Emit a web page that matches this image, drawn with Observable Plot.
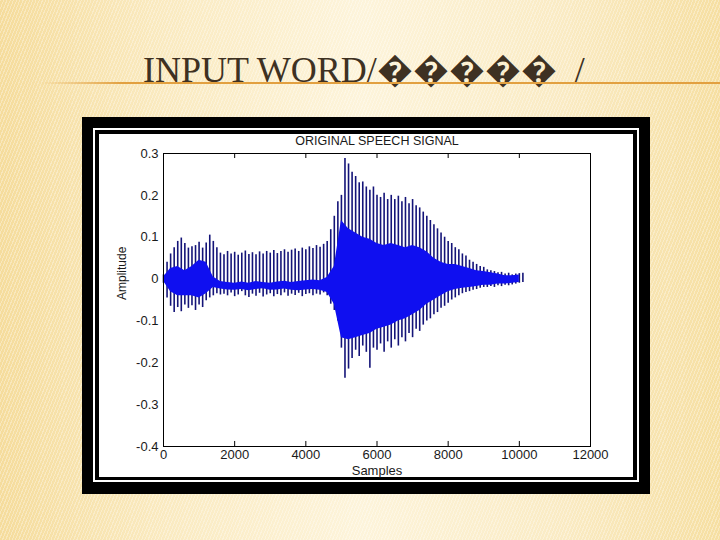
<!DOCTYPE html>
<html>
<head>
<meta charset="utf-8">
<script src="https://cdn.jsdelivr.net/npm/d3@7"></script>
<script src="https://cdn.jsdelivr.net/npm/@observablehq/plot@0.6"></script>
<style>
  html, body { margin: 0; padding: 0; }
  #slide {
    position: relative; width: 720px; height: 540px; overflow: hidden;
    background:
      repeating-linear-gradient(112deg, rgba(255,255,255,0.32) 0px, rgba(255,255,255,0.32) 1px, rgba(255,255,255,0) 1px, rgba(255,255,255,0) 3px),
      linear-gradient(90deg, #f5dc9c 0%, #faeac0 22%, #fdf4db 50%, #faebc4 78%, #f6dfa2 100%);
  }
  #title {
    position: absolute; left: 143px; top: 52px; line-height: 36px;
    font-family: "Liberation Serif", "Times New Roman", serif; font-size: 36px;
    color: #3e3122; white-space: pre;
  }
  #rule {
    position: absolute; left: 40px; top: 82px; width: 680px; height: 2px;
    background: linear-gradient(90deg, rgba(226,160,64,0) 0%, #e2a040 12%, #e2a040 100%);
  }
  .box { position: absolute; }
</style>
</head>
<body>
<div id="slide">
  <div id="title"></div>
  <div id="rule"></div>
  <div class="box" style="left:82px;top:117px;width:568px;height:377px;background:#000;"></div>
  <div class="box" style="left:93px;top:128px;width:546px;height:354px;background:#fff;"></div>
  <div class="box" style="left:95px;top:130px;width:542px;height:350px;background:#000;"></div>
  <div class="box" id="chart" style="left:99px;top:134px;width:534px;height:343px;background:#fff;"></div>
</div>
<script>
// ---- text ----
const slideTitle = "INPUT WORD/\uFFFD\uFFFD\uFFFD\uFFFD\uFFFD  /";
const chartTitle = "ORIGINAL SPEECH SIGNAL";
const xLabel = "Samples";
const yLabel = "Amplitude";

// ---- axes ----
const xTicks = [0, 2000, 4000, 6000, 8000, 10000, 12000];
const xTickLabels = ["0", "2000", "4000", "6000", "8000", "10000", "12000"];
const yTicks = [0.3, 0.2, 0.1, 0, -0.1, -0.2, -0.3, -0.4];
const yTickLabels = ["0.3", "0.2", "0.1", "0", "-0.1", "-0.2", "-0.3", "-0.4"];

// ---- waveform envelope ----
// pitch-spike extremes, one value per 100 samples (0 .. 10100)
const spikeStep = 100;
const spikeHi = [
  0.01, 0.04, 0.06, 0.075, 0.09, 0.098, 0.085, 0.074, 0.077, 0.08,
  0.088, 0.074, 0.086, 0.105, 0.09, 0.075, 0.062, 0.058, 0.066, 0.06,
  0.064, 0.057, 0.062, 0.067, 0.059, 0.063, 0.058, 0.065, 0.06, 0.066,
  0.062, 0.068, 0.061, 0.066, 0.07, 0.064, 0.069, 0.072, 0.066, 0.074,
  0.07, 0.077, 0.073, 0.08, 0.076, 0.083, 0.09, 0.118, 0.15, 0.185,
  0.2, 0.288, 0.275, 0.255, 0.245, 0.23, 0.232, 0.22, 0.212, 0.22,
  0.2, 0.195, 0.205, 0.19, 0.2, 0.19, 0.198, 0.185, 0.195, 0.18,
  0.19, 0.175, 0.17, 0.16, 0.15, 0.14, 0.13, 0.12, 0.11, 0.1,
  0.09, 0.085, 0.075, 0.07, 0.06, 0.055, 0.045, 0.04, 0.035, 0.03,
  0.028, 0.022, 0.02, 0.018, 0.015, 0.016, 0.012, 0.014, 0.01, 0.012,
  0.013, 0.014
];
const spikeLo = [
  -0.01, -0.045, -0.065, -0.08, -0.068, -0.078, -0.062, -0.07, -0.064, -0.075,
  -0.062, -0.068, -0.052, -0.045, -0.04, -0.035, -0.038, -0.036, -0.04, -0.033,
  -0.042, -0.038, -0.03, -0.04, -0.044, -0.036, -0.041, -0.034, -0.043, -0.038,
  -0.035, -0.042, -0.037, -0.04, -0.033, -0.041, -0.036, -0.039, -0.034, -0.042,
  -0.037, -0.035, -0.04, -0.036, -0.038, -0.033, -0.04, -0.06, -0.075, -0.1,
  -0.165, -0.237, -0.215, -0.19, -0.17, -0.185, -0.16, -0.175, -0.213, -0.165,
  -0.17, -0.155, -0.175, -0.15, -0.165, -0.145, -0.16, -0.14, -0.15, -0.13,
  -0.14, -0.12, -0.125, -0.11, -0.1, -0.095, -0.085, -0.08, -0.07, -0.065,
  -0.058, -0.05, -0.045, -0.04, -0.035, -0.032, -0.03, -0.027, -0.025, -0.022,
  -0.02, -0.02, -0.018, -0.02, -0.016, -0.018, -0.015, -0.016, -0.014, -0.012,
  -0.01, -0.008
];
// dense core of the signal, one value per 200 samples (0 .. 10000)
const coreStep = 200;
const coreHi = [
  0.005, 0.025, 0.03, 0.02, 0.03, 0.045, 0.04, 0.005, -0.006, -0.008,
  -0.01, -0.007, -0.01, -0.006, -0.008, -0.01, -0.007, -0.005, -0.008, -0.006,
  -0.004, -0.002, -0.004, 0.004, 0.03, 0.14, 0.12, 0.11, 0.1, 0.095,
  0.085, 0.08, 0.085, 0.08, 0.075, 0.08, 0.075, 0.065, 0.05, 0.04,
  0.035, 0.035, 0.03, 0.025, 0.02, 0.018, 0.015, 0.012, 0.008, 0.008,
  0.01
];
const coreLo = [
  -0.005, -0.03, -0.04, -0.04, -0.04, -0.045, -0.035, -0.02, -0.024, -0.026,
  -0.027, -0.025, -0.028, -0.025, -0.023, -0.027, -0.026, -0.024, -0.027, -0.028,
  -0.026, -0.025, -0.027, -0.032, -0.06, -0.14, -0.145, -0.14, -0.135, -0.13,
  -0.12, -0.115, -0.11, -0.1, -0.095, -0.085, -0.075, -0.06, -0.05, -0.04,
  -0.03, -0.025, -0.022, -0.02, -0.018, -0.015, -0.015, -0.012, -0.012, -0.01,
  -0.008
];

document.getElementById("title").textContent = slideTitle;

const spikes = spikeHi.map((hi, i) => ({s: i * spikeStep, hi, lo: spikeLo[i]}));
const core = coreHi.map((hi, i) => ({s: i * coreStep, hi, lo: coreLo[i]}));
const innerTicks = xTicks.slice(1, -1);
const yMin = yTicks[yTicks.length - 1], yMax = yTicks[0];
const tickLen = 0.012;

const chart = Plot.plot({
  width: 534,
  height: 343,
  marginLeft: 64,
  marginRight: 43,
  marginTop: 19,
  marginBottom: 31,
  style: {fontFamily: "'Liberation Sans', Arial, sans-serif", fontSize: "13px", background: "transparent", overflow: "visible", color: "#1a1a1a"},
  x: {domain: [0, 12000]},
  y: {domain: [yMin, yMax]},
  marks: [
    Plot.ruleX(spikes, {x: "s", y1: "lo", y2: "hi", stroke: "#141478", strokeWidth: 1.6}),
    Plot.areaY(core, {x: "s", y1: "lo", y2: "hi", fill: "#0f0ff0"}),
    Plot.frame({stroke: "#000", strokeWidth: 1}),
    Plot.ruleX(innerTicks, {x: d => d, y1: yMin, y2: yMin + tickLen, stroke: "#000"}),
    Plot.ruleX(innerTicks, {x: d => d, y1: yMax, y2: yMax - tickLen, stroke: "#000"}),
    Plot.axisX(xTicks, {tickSize: 0, tickPadding: 3, tickFormat: d => xTickLabels[xTicks.indexOf(d)], label: null}),
    Plot.axisY(yTicks, {tickSize: 0, tickPadding: 5, tickFormat: d => yTickLabels[yTicks.indexOf(d)], label: null}),
    Plot.text([chartTitle], {text: d => d, frameAnchor: "top", dy: -17, fontSize: 12.5, fill: "#1a1a1a"}),
    Plot.text([xLabel], {text: d => d, frameAnchor: "bottom", dy: 28, fontSize: 13, fill: "#1a1a1a"}),
    Plot.text([yLabel], {text: d => d, frameAnchor: "left", dx: -41, rotate: -90, fontSize: 12, fill: "#1a1a1a"})
  ]
});
document.getElementById("chart").appendChild(chart);
</script>
</body>
</html>
